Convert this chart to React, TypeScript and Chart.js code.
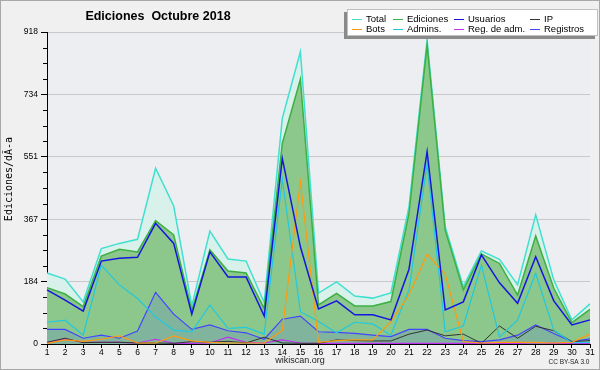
import React, { useEffect, useRef } from "react";
import { Chart, registerables } from "chart.js";

Chart.register(...registerables);

const DAYS = ["1","2","3","4","5","6","7","8","9","10","11","12","13","14","15","16","17","18","19","20","21","22","23","24","25","26","27","28","29","30","31"];

const TOTAL = [209,191,124,281,296,308,517,406,112,332,250,244,122,664,860,150,183,141,135,150,404,894,345,169,274,249,174,380,188,71,118];
const EDICIONES = [166,147,110,259,279,271,363,321,98,277,215,209,105,590,779,115,149,112,112,125,384,880,335,159,265,237,144,318,164,63,102];
const USUARIOS = [159,129,97,244,252,255,355,296,88,271,197,197,82,546,286,103,127,86,86,71,220,566,100,124,262,180,120,257,127,56,71];
const IP = [5,17,4,5,5,3,3,2,7,5,8,3,20,3,2,2,12,10,9,9,29,41,24,29,2,53,17,52,39,7,10];
const BOTS = [2,12,8,14,24,3,3,24,9,5,3,3,3,40,478,5,10,12,12,66,144,264,206,7,3,5,5,5,3,5,29];
const ADMINS = [64,70,26,232,174,134,80,41,36,115,46,49,29,485,95,66,33,64,59,26,159,530,36,53,232,20,71,208,41,4,5];
const REG_ADM = [4,14,5,5,5,3,14,2,2,3,20,5,3,12,3,2,2,2,2,2,2,2,2,2,2,2,2,4,2,2,2];
const REGISTROS = [43,43,17,26,17,38,152,88,43,56,39,33,14,73,82,36,34,31,26,22,43,43,17,10,7,12,26,56,31,7,15];

const Y_MAJOR = [0, 184, 367, 551, 734, 918];
const Y_MAX = 918;
const MINOR_PER_MAJOR = 4;

const TITLE = "Ediciones  Octubre 2018";
const Y_LABEL = "Ediciones/dÃ-a";
const FOOTER = "wikiscan.org";
const LICENSE = "CC BY-SA 3.0";

const SERIES = [
  { label: "Total", data: TOTAL, color: "#40e0d0", fill: "#d8f1ea", width: 1.5, order: 10 },
  { label: "Ediciones", data: EDICIONES, color: "#3cb043", fill: "#8cc88c", width: 1.5, order: 9 },
  { label: "Usuarios", data: USUARIOS, color: "#1515e0", fill: null, width: 1.5, order: 3 },
  { label: "IP", data: IP, color: "#333333", fill: null, width: 1, order: 6 },
  { label: "Bots", data: BOTS, color: "#ff9a10", fill: null, width: 1.2, order: 4 },
  { label: "Admins.", data: ADMINS, color: "#20c8e0", fill: null, width: 1.2, order: 5 },
  { label: "Reg. de adm.", data: REG_ADM, color: "#c030f0", fill: null, width: 1.2, order: 7 },
  { label: "Registros", data: REGISTROS, color: "#4444ff", fill: "rgba(64,64,255,0.15)", width: 1.2, order: 8 },
];

// legend grid: [seriesIndex, column, row]
const LEGEND_LAYOUT = [
  [0, 0, 0], [1, 1, 0], [2, 2, 0], [3, 3, 0],
  [4, 0, 1], [5, 1, 1], [6, 2, 1], [7, 3, 1],
];
const LEGEND_COL_X = [352, 393, 454, 530];
const LEGEND_ROW_Y = [19, 29];

const SANS = "'Liberation Sans', Arial, sans-serif";

const decorPlugin = {
  id: "decor",
  beforeDraw(chart: any) {
    const { ctx, chartArea } = chart;
    ctx.save();
    ctx.fillStyle = "#f0f0f0";
    ctx.fillRect(0, 0, chart.width, chart.height);
    ctx.strokeStyle = "#a8a8a8";
    ctx.lineWidth = 1;
    ctx.strokeRect(0.5, 0.5, chart.width - 1, chart.height - 1);
    ctx.fillStyle = "#eceef1";
    ctx.fillRect(chartArea.left, chartArea.top, chartArea.right - chartArea.left, chartArea.bottom - chartArea.top);
    ctx.restore();
  },
  afterDraw(chart: any) {
    const { ctx, chartArea } = chart;
    const yScale = chart.scales.y;
    ctx.save();
    // minor ticks on y
    ctx.strokeStyle = "#000";
    ctx.lineWidth = 1;
    const step = Y_MAX / ((Y_MAJOR.length - 1) * MINOR_PER_MAJOR);
    for (let i = 0; i <= (Y_MAJOR.length - 1) * MINOR_PER_MAJOR; i++) {
      if (i % MINOR_PER_MAJOR === 0) continue;
      const py = Math.round(yScale.getPixelForValue(i * step)) + 0.5;
      ctx.beginPath();
      ctx.moveTo(chartArea.left - 4, py);
      ctx.lineTo(chartArea.left, py);
      ctx.stroke();
    }
    // title
    ctx.fillStyle = "#000";
    ctx.font = `bold 12.5px ${SANS}`;
    ctx.textAlign = "center";
    ctx.textBaseline = "middle";
    ctx.fillText(TITLE, 158, 17);
    // y label
    ctx.save();
    ctx.translate(9, 179);
    ctx.rotate(-Math.PI / 2);
    ctx.font = "10px 'DejaVu Sans Mono', monospace";
    ctx.fillText(Y_LABEL, 0, 0);
    ctx.restore();
    // footer
    ctx.font = `9px ${SANS}`;
    ctx.fillStyle = "#222";
    ctx.fillText(FOOTER, 300, 361);
    ctx.font = `6.5px ${SANS}`;
    ctx.fillText(LICENSE, 569, 362);
    // legend box
    ctx.fillStyle = "#8a8a8a";
    ctx.fillRect(344, 12, 251, 27);
    ctx.fillStyle = "#ffffff";
    ctx.fillRect(347, 9, 251, 27);
    ctx.strokeStyle = "#c0c0c0";
    ctx.strokeRect(347.5, 9.5, 250, 26);
    ctx.font = `9.5px ${SANS}`;
    ctx.textAlign = "left";
    ctx.textBaseline = "middle";
    for (const [si, col, row] of LEGEND_LAYOUT) {
      const s = SERIES[si];
      const x = LEGEND_COL_X[col];
      const y = LEGEND_ROW_Y[row];
      ctx.strokeStyle = s.color;
      ctx.lineWidth = 1;
      ctx.beginPath();
      ctx.moveTo(x, y + 0.5);
      ctx.lineTo(x + 10, y + 0.5);
      ctx.stroke();
      ctx.fillStyle = "#000";
      ctx.fillText(s.label, x + 14, y);
    }
    ctx.restore();
  },
};

export default function App() {
  const ref = useRef<HTMLCanvasElement | null>(null);
  useEffect(() => {
    if (!ref.current) return;
    const chart = new Chart(ref.current, {
      type: "line",
      data: {
        labels: DAYS,
        datasets: SERIES.map((s) => ({
          label: s.label,
          data: s.data,
          borderColor: s.color,
          backgroundColor: s.fill || "transparent",
          fill: s.fill ? "origin" : false,
          borderWidth: s.width,
          pointRadius: 0,
          tension: 0,
          order: s.order,
        })),
      },
      options: {
        animation: false,
        responsive: false,
        maintainAspectRatio: false,
        layout: { padding: { left: 0, top: 32, right: 10, bottom: 0 } },
        plugins: { legend: { display: false }, title: { display: false }, tooltip: { enabled: false } },
        scales: {
          x: {
            type: "category",
            offset: false,
            afterFit: (scale: any) => { scale.height = 26; },
            grid: { drawOnChartArea: false, color: "#000", tickColor: "#000", tickLength: 4 },
            border: { color: "#000", width: 1 },
            ticks: {
              autoSkip: false,
              maxRotation: 0,
              padding: 0,
              color: "#000",
              font: { family: SANS, size: 8.5 },
            },
          },
          y: {
            min: 0,
            max: Y_MAX,
            afterFit: (scale: any) => { scale.width = 47; },
            afterBuildTicks: (scale: any) => {
              const n = (Y_MAJOR.length - 1) * MINOR_PER_MAJOR;
              const ticks = [];
              for (let i = 0; i <= n; i++) ticks.push({ value: (Y_MAX * i) / n });
              scale.ticks = ticks;
            },
            grid: {
              color: (c: any) => (c.index % MINOR_PER_MAJOR === 0 && c.index > 0 ? "#c8c8c8" : "transparent"),
              tickColor: (c: any) => (c.index % MINOR_PER_MAJOR === 0 ? "#000" : "transparent"),
              tickLength: 6,
            },
            border: { color: "#000", width: 1 },
            ticks: {
              padding: 3,
              color: "#000",
              font: { family: SANS, size: 8.5 },
              callback: (_v: any, i: number) => (i % MINOR_PER_MAJOR === 0 ? String(Y_MAJOR[i / MINOR_PER_MAJOR]) : ""),
            },
          },
        },
      },
      plugins: [decorPlugin],
    } as any);
    return () => chart.destroy();
  }, []);
  return (
    <div style={{ position: "fixed", left: 0, top: 0, width: 600, height: 370 }}>
      <canvas ref={ref} width={600} height={370} style={{ width: 600, height: 370, display: "block" }} />
    </div>
  );
}
